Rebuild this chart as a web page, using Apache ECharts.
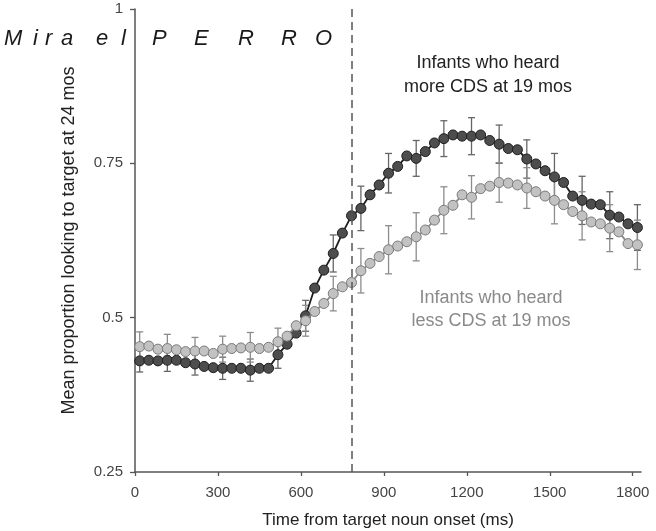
<!DOCTYPE html>
<html>
<head>
<meta charset="utf-8">
<script src="https://cdn.jsdelivr.net/npm/echarts@6/dist/echarts.min.js"></script>
<style>
html,body{margin:0;padding:0;background:#fff;}
#chart{width:656px;height:531px;}
</style>
</head>
<body>
<div id="chart"></div>
<script>
// Frame times (ms from target noun onset)
var times = [17,50,83,117,150,183,217,250,283,317,350,383,417,450,483,517,550,583,617,650,683,717,750,783,817,850,883,917,950,983,1017,1050,1083,1117,1150,1183,1217,1250,1283,1317,1350,1383,1417,1450,1483,1517,1550,1583,1617,1650,1683,1717,1750,1783,1817];

// Infants who heard more CDS at 19 mos
var moreCDS = [0.430,0.431,0.430,0.431,0.431,0.427,0.425,0.421,0.419,0.418,0.418,0.418,0.415,0.418,0.418,0.440,0.457,0.475,0.503,0.548,0.577,0.604,0.637,0.665,0.677,0.699,0.715,0.734,0.745,0.762,0.758,0.769,0.783,0.790,0.796,0.794,0.794,0.796,0.787,0.781,0.774,0.772,0.757,0.749,0.738,0.728,0.719,0.697,0.690,0.684,0.683,0.666,0.663,0.652,0.646];

// Infants who heard less CDS at 19 mos
var lessCDS = [0.453,0.454,0.449,0.450,0.448,0.445,0.446,0.446,0.442,0.449,0.450,0.451,0.452,0.450,0.452,0.461,0.470,0.487,0.495,0.510,0.523,0.539,0.550,0.557,0.576,0.588,0.599,0.610,0.616,0.623,0.631,0.642,0.658,0.674,0.682,0.699,0.695,0.709,0.713,0.719,0.718,0.715,0.710,0.704,0.697,0.690,0.683,0.672,0.665,0.655,0.652,0.645,0.639,0.620,0.618];

// Error bars (shown every third frame)
var errTimes = [17,117,217,317,417,517,617,717,817,917,1017,1117,1217,1317,1417,1517,1617,1717,1817];
var errMore = [0.018,0.018,0.018,0.018,0.018,0.022,0.025,0.030,0.036,0.032,0.029,0.029,0.030,0.031,0.031,0.038,0.039,0.038,0.037];
var errLess = [0.024,0.023,0.022,0.021,0.024,0.022,0.025,0.028,0.036,0.039,0.039,0.038,0.035,0.032,0.033,0.038,0.039,0.038,0.040];

var xTicks = [0,300,600,900,1200,1500,1800];
var yTicks = [0.25,0.5,0.75,1];
var nounDashTime = 785;

function pairs(vals){ return times.map(function(t,i){ return [t, vals[i]]; }); }
function errData(vals, errs){
  return errTimes.map(function(t,k){
    var v = vals[times.indexOf(t)];
    return [t, v - errs[k], v + errs[k]];
  });
}
function errRender(color){
  return function(params, api){
    var x = api.value(0), lo = api.value(1), hi = api.value(2);
    var p1 = api.coord([x, lo]), p2 = api.coord([x, hi]);
    var w = 3.5;
    var st = {stroke: color, lineWidth: 1.3};
    return {type:'group', children:[
      {type:'line', shape:{x1:p1[0],y1:p1[1],x2:p2[0],y2:p2[1]}, style:st},
      {type:'line', shape:{x1:p1[0]-w,y1:p1[1],x2:p1[0]+w,y2:p1[1]}, style:st},
      {type:'line', shape:{x1:p2[0]-w,y1:p2[1],x2:p2[0]+w,y2:p2[1]}, style:st}
    ]};
  };
}

var FONT = '"Liberation Sans", Arial, sans-serif';
var chart = echarts.init(document.getElementById('chart'), null, {renderer:'canvas'});

var letters = [['M',4],['i',33],['r',45],['a',61],['e',96],['l',121],['P',152],['E',194],['R',238],['R',281],['O',315]];
var graphics = letters.map(function(l){
  return {type:'text', left:l[1], top:28, style:{text:l[0], font:'italic 22px ' + FONT, fill:'#1a1a1a'}};
});
graphics.push({type:'text', x:488, y:63, style:{text:'Infants who heard', font:'18px ' + FONT, fill:'#222', align:'center', verticalAlign:'middle'}});
graphics.push({type:'text', x:488, y:87, style:{text:'more CDS at 19 mos', font:'18px ' + FONT, fill:'#222', align:'center', verticalAlign:'middle'}});
graphics.push({type:'text', x:491, y:298, style:{text:'Infants who heard', font:'18px ' + FONT, fill:'#8a8a8a', align:'center', verticalAlign:'middle'}});
graphics.push({type:'text', x:491, y:321, style:{text:'less CDS at 19 mos', font:'18px ' + FONT, fill:'#8a8a8a', align:'center', verticalAlign:'middle'}});

chart.setOption({
  animation: false,
  backgroundColor: '#fff',
  textStyle: {fontFamily: FONT},
  grid: {left:135, right:15, top:9, bottom:59, containLabel:false, outerBoundsMode:'none'},
  xAxis: {
    type:'value', min:0, max:1830,
    name:'Time from target noun onset (ms)', nameLocation:'middle', nameGap:40,
    nameTextStyle:{fontSize:17, color:'#222', fontFamily:FONT},
    axisLine:{show:true, lineStyle:{color:'#555', width:1.5}},
    axisTick:{show:true, length:4, customValues:xTicks, lineStyle:{color:'#555', width:1.3}},
    axisLabel:{customValues:xTicks, margin:13, fontSize:15, color:'#444', fontFamily:FONT, formatter:function(v){ return String(Math.round(v)); }},
    splitLine:{show:false}
  },
  yAxis: {
    type:'value', min:0.25, max:1, interval:0.25,
    name:'Mean proportion looking to target at 24 mos', nameLocation:'middle', nameGap:57, nameRotate:90,
    nameTextStyle:{fontSize:18, color:'#222', fontFamily:FONT},
    axisLine:{show:true, lineStyle:{color:'#555', width:1.5}},
    axisTick:{show:true, length:5, lineStyle:{color:'#555', width:1.3}},
    axisLabel:{margin:12, fontSize:15, color:'#444', fontFamily:FONT, formatter:function(v){ return String(+v.toFixed(2)); }},
    splitLine:{show:false}
  },
  graphic: graphics,
  series: [
    {type:'custom', name:'err more', data:errData(moreCDS, errMore), renderItem:errRender('#666'), encode:{x:0, y:[1,2]}, z:1, silent:true},
    {type:'custom', name:'err less', data:errData(lessCDS, errLess), renderItem:errRender('#8c8c8c'), encode:{x:0, y:[1,2]}, z:1, silent:true},
    {type:'line', name:'more CDS', data:pairs(moreCDS), z:3,
      symbol:'circle', symbolSize:10, showSymbol:true,
      lineStyle:{color:'#1e1e1e', width:1.8},
      itemStyle:{color:'#4d4d4d', borderColor:'#1e1e1e', borderWidth:1},
      markLine:{silent:true, symbol:['none','none'], label:{show:false},
        lineStyle:{color:'#555', type:[8,5], width:1.5},
        data:[{xAxis:nounDashTime}]}
    },
    {type:'line', name:'less CDS', data:pairs(lessCDS), z:4,
      symbol:'circle', symbolSize:10, showSymbol:true,
      lineStyle:{color:'#8a8a8a', width:1.8},
      itemStyle:{color:'#c2c2c2', borderColor:'#7a7a7a', borderWidth:1}
    }
  ]
});
</script>
</body>
</html>
